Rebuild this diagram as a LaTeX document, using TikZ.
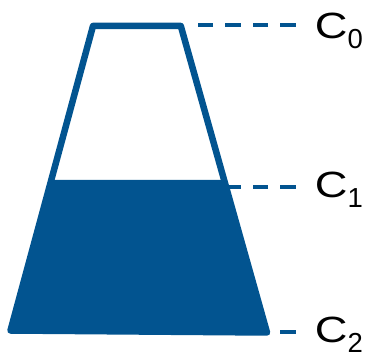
\documentclass[tikz,border=0pt]{standalone}
\usepackage{fontspec}
\setmainfont{Liberation Sans}
\usetikzlibrary{calc}
\definecolor{flaskblue}{RGB}{2,84,144}
\newcommand{\lvl}[1]{\scalebox{1.24}[1]{C}\smash{\raisebox{-10pt}{\fontsize{27.5}{27.5}\selectfont #1}}}

\begin{document}
\begin{tikzpicture}[
  x=1pt, y=1pt,
  rim/.style={draw=flaskblue, line width=6.5pt, line join=round},
  liquid/.style={fill=flaskblue},
  guide/.style={draw=flaskblue, line width=4pt, dash pattern=on 15.5pt off 12pt},
  lbl/.style={anchor=west, inner sep=0pt, font=\fontsize{36.5}{36.5}\selectfont}
]
\useasboundingbox (0,0) rectangle (369,358);
% corners of the vessel
\coordinate (tl) at (93,332);
\coordinate (tr) at (180.8,332);
\coordinate (br) at (267,25.5);
\coordinate (bl) at (10.5,27.5);
% liquid surface
\coordinate (wl) at (51.3,178);
\coordinate (wr) at (224.3,178);

\fill[liquid] (wl) -- (wr) -- (br) -- (bl) -- cycle;
\draw[rim] (tl) -- (tr) -- (br) -- (bl) -- cycle;

\node[lbl] (c0) at (314.7,332.5) {\lvl{0}};
\node[lbl] (c1) at (314.7,173.5) {\lvl{1}};
\node[lbl] (c2) at (314.7,28.5) {\lvl{2}};

\draw[guide] ([xshift=-19pt]c0.west) -- ($(c0.west -| tr)+(16,0)$);
\draw[guide] ([xshift=-19pt,yshift=-2.5pt]c1.west) -- ([yshift=-2.5pt]c1.west -| wr);
\draw[guide] ([xshift=-19pt,yshift=-2.5pt]c2.west) -- ([yshift=-2.5pt]c2.west -| br);
\end{tikzpicture}
\end{document}
